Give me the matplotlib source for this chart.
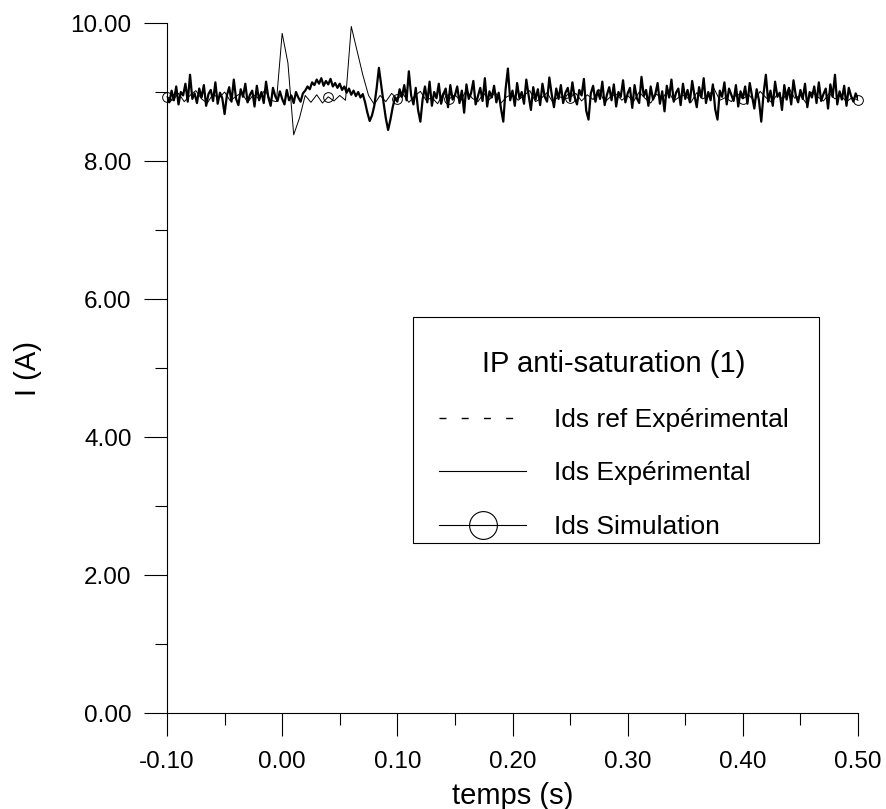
import numpy as np
import matplotlib
matplotlib.use('Agg')
import matplotlib.pyplot as plt
from matplotlib.lines import Line2D
from matplotlib.patches import Rectangle

plt.rcParams['font.family'] = ['Liberation Sans', 'DejaVu Sans']

# Ids Experimental, sampled every 2 ms from -0.1 s to 0.5 s
exp_t0, exp_dt = -0.1, 0.002
exp_i = [
    8.93, 8.85, 9.02, 8.88, 9.08, 8.82, 9.00, 8.95, 9.12, 8.86, 9.25, 8.90, 8.98, 8.84, 9.05, 8.92, 9.10, 8.80, 8.97, 9.03, 8.87, 9.14, 8.83, 8.99, 8.91,
    8.68, 8.95, 9.07, 8.86, 9.18, 8.90, 8.81, 9.04, 8.93, 9.12, 8.85, 8.96, 9.02, 8.79, 9.09, 8.88, 9.00, 8.84, 9.15, 8.92, 8.80, 9.06, 8.94, 8.87, 9.01,
    8.90, 8.82, 9.03, 8.88, 8.95, 8.84, 9.00, 8.92, 8.86, 8.98, 9.02, 9.08, 9.04, 9.14, 9.10, 9.18, 9.12, 9.20, 9.09, 9.16, 9.11, 9.19, 9.08, 9.13, 9.06,
    9.12, 9.03, 9.08, 8.99, 9.05, 8.96, 9.02, 8.94, 9.00, 8.92, 8.97, 8.85, 8.70, 8.58, 8.66, 8.80, 9.05, 9.35, 9.10, 8.85, 8.62, 8.45, 8.60, 8.78, 8.92,
    8.86, 9.04, 8.93, 9.10, 8.88, 9.30, 8.95, 8.82, 9.06, 8.74, 8.57, 8.90, 9.08, 8.85, 9.15, 8.80, 9.00, 8.91, 9.12, 8.83, 8.97, 9.05, 8.78, 9.10, 8.89,
    8.95, 9.08, 8.84, 9.02, 8.70, 9.11, 8.90, 8.98, 9.16, 8.82, 8.94, 9.06, 8.87, 9.20, 8.79, 9.01, 8.92, 9.09, 8.85, 8.99, 8.76, 8.57, 9.04, 9.34, 8.88,
    9.02, 8.80, 9.13, 8.91, 9.00, 8.83, 9.18, 8.95, 8.74, 9.07, 8.89, 9.04, 8.81, 9.12, 8.93, 8.86, 9.21, 8.97, 8.78, 9.05, 8.90, 9.10, 8.84, 8.99, 9.06,
    8.87, 9.14, 8.92, 8.82, 9.03, 8.95, 9.19, 8.73, 8.60, 8.98, 9.09, 8.86, 9.02, 8.90, 9.15, 8.81, 8.96, 9.07, 8.88, 9.11, 8.79, 9.00, 8.93, 9.17, 8.85,
    8.98, 9.06, 8.77, 9.10, 8.91, 8.84, 9.22, 8.94, 9.03, 8.80, 9.08, 8.89, 8.97, 9.13, 8.83, 9.01, 8.72, 9.09, 8.92, 9.18, 8.86, 8.99, 9.05, 8.81, 9.12,
    8.90, 9.03, 8.85, 9.16, 8.95, 8.78, 9.07, 8.92, 9.20, 8.84, 9.00, 8.88, 9.11, 8.75, 8.60, 9.02, 8.93, 9.14, 8.82, 9.05, 8.96, 8.87, 9.10, 8.79, 9.01,
    8.91, 9.08, 8.83, 9.13, 8.94, 8.76, 9.04, 8.88, 8.57, 8.98, 9.25, 8.86, 9.02, 8.80, 9.15, 8.93, 8.99, 8.74, 9.10, 8.89, 9.06, 8.82, 9.17, 8.95, 8.85,
    9.03, 8.90, 9.12, 8.78, 9.00, 8.92, 9.08, 8.84, 9.14, 8.87, 8.97, 9.05, 8.76, 9.11, 8.93, 9.25, 8.82, 9.01, 8.89, 9.09, 8.80, 9.06, 8.94, 8.86, 8.98,
    8.90,
]

# Ids Simulation, sampled every 5 ms
sim_t0, sim_dt = -0.1, 0.005
sim_i = [
    8.93, 8.88, 8.98, 8.86, 8.95, 9.02, 8.90, 8.84, 8.97, 8.91, 9.00, 8.87, 8.94, 8.99, 8.85, 8.96, 8.90, 9.03, 8.88, 8.86,
    9.85, 9.42, 8.38, 8.62, 8.95, 8.85, 8.96, 8.84, 8.93, 8.87, 8.95, 8.88, 9.95, 9.60, 9.25, 8.95, 8.82, 8.95, 8.86, 8.98,
    8.90, 8.97, 8.85, 8.94, 9.01, 8.88, 8.92, 8.83, 8.99, 8.90, 8.96, 8.87, 9.03, 8.91, 8.86, 8.98, 8.89, 9.00, 8.84, 8.93,
    8.97, 8.88, 8.95, 9.02, 8.86, 8.91, 8.99, 8.85, 8.94, 8.90, 8.92, 8.98, 8.87, 8.96, 8.89, 9.04, 8.85, 8.93, 8.97, 8.88,
    8.95, 8.86, 9.00, 8.91, 8.84, 8.97, 8.90, 9.03, 8.87, 8.93, 8.96, 8.85, 8.99, 8.90, 8.94, 9.05, 8.88, 8.92, 8.86, 8.98,
    8.90, 8.96, 8.87, 9.01, 8.92, 8.85, 8.97, 8.89, 9.06, 8.91, 8.95, 8.84, 9.00, 8.93, 8.87, 8.98, 8.90, 8.95, 8.86, 8.92,
    8.88,
]
sim_marks = [0, 28, 40, 49, 70, 100, 120]  # where the circles show up

x_ticks = [-0.10, 0.00, 0.10, 0.20, 0.30, 0.40, 0.50]
y_ticks = [0, 2, 4, 6, 8, 10]
labels = ['Ids ref Expérimental', 'Ids Expérimental', 'Ids Simulation']

exp_t = exp_t0 + exp_dt * np.arange(len(exp_i))
sim_t = sim_t0 + sim_dt * np.arange(len(sim_i))

fig = plt.figure(figsize=(8.86, 8.09), dpi=100)
ax = fig.add_axes([167/886, 96/809, 691/886, 690/809])

ax.plot(exp_t, exp_i, color='k', lw=1.6, zorder=2)
ax.plot(sim_t, sim_i, color='k', lw=0.7, marker='o', markersize=7,
        mfc='none', mew=0.7, markevery=sim_marks, clip_on=False, zorder=3)

ax.set_xlim(-0.1, 0.5)
ax.set_ylim(0, 10)
ax.spines['top'].set_visible(False)
ax.spines['right'].set_visible(False)
for s in ['left', 'bottom']:
    ax.spines[s].set_linewidth(0.8)

ax.set_xticks(x_ticks)
ax.set_xticklabels(['%.2f' % v for v in x_ticks])
ax.set_xticks([v + 0.05 for v in x_ticks[:-1]], minor=True)
ax.set_yticks(y_ticks)
ax.set_yticklabels(['%.2f' % v for v in y_ticks])
ax.set_yticks([v + 1 for v in y_ticks[:-1]], minor=True)
ax.tick_params(which='major', direction='out', length=16.5, width=0.8, labelsize=17.5, pad=11)
ax.tick_params(which='minor', direction='out', length=8.3, width=0.8)
ax.tick_params(axis='y', which='major', pad=9)

ax.set_xlabel('temps (s)', fontsize=21)
ax.xaxis.set_label_coords(0.5, -0.1)
ax.set_ylabel('I (A)', fontsize=21)
ax.yaxis.set_label_coords(-0.181, 0.5)

# legend box drawn separately so the padding matches
ax.add_patch(Rectangle((0.356, 0.2464), 0.5876, 0.3275, transform=ax.transAxes,
                       fc='white', ec='k', lw=0.8, zorder=4))

# legend handles (the ref trace itself is not visible on the plot)
h_ref = Line2D([], [], color='k', lw=1, ls=(0, (5, 11)))
h_exp = Line2D([], [], color='k', lw=0.8)
h_sim = Line2D([], [], color='k', lw=0.8, marker='o', markersize=20, mfc='none', mew=0.8)
leg = ax.legend([h_ref, h_exp, h_sim], labels, title='IP anti-saturation (1)',
                loc='upper left', bbox_to_anchor=(0.356, 0.564), borderaxespad=0,
                fontsize=19, title_fontsize=21, frameon=False,
                handlelength=3.3, handletextpad=1.05,
                labelspacing=1.12, borderpad=1.0)
leg.set_zorder(5)

fig.savefig('out.png', dpi=100)
